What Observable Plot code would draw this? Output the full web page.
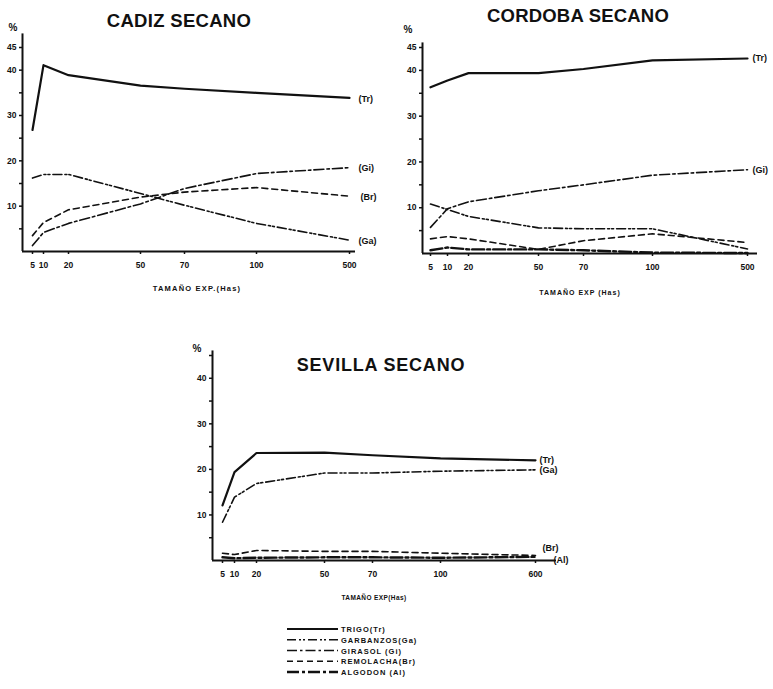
<!DOCTYPE html>
<html><head><meta charset="utf-8">
<script src="https://cdn.jsdelivr.net/npm/d3@7"></script>
<script src="https://cdn.jsdelivr.net/npm/@observablehq/plot@0.6"></script>
<style>
body{margin:0;background:#fff}
#root{position:relative;width:773px;height:689px;overflow:hidden;background:#fff}
#root svg{position:absolute;left:0;top:0}
</style></head><body><div id="root"></div>
<script>
const W = 773, H = 689;

// ---- data (values in %) ----
const sizes = [5, 10, 20, 50, 70, 100, 500];
const sevillaSizes = [5, 10, 20, 50, 70, 100, 600];

const cadizTr = [26.8, 41.1, 38.9, 36.6, 35.9, 35.0, 33.9];
const cadizGa = [16.2, 17.0, 17.0, 12.8, 10.2, 6.2, 2.5];
const cadizGi = [1.3, 4.2, 6.2, 10.5, 13.9, 17.2, 18.5];
const cadizBr = [3.5, 6.4, 9.2, 12.0, 13.1, 14.1, 12.2];

const cordobaTr = [36.3, 37.8, 39.4, 39.4, 40.3, 42.2, 42.6];
const cordobaGa = [10.8, 9.6, 8.1, 5.6, 5.4, 5.4, 1.0];
const cordobaGi = [5.7, 9.8, 11.3, 13.7, 15.0, 17.1, 18.3];
const cordobaBr = [3.2, 3.7, 3.2, 0.9, 2.8, 4.3, 2.4];
const cordobaAl = [0.7, 1.3, 0.9, 0.9, 0.7, 0.2, 0.1];

const sevillaTr = [12.1, 19.4, 23.6, 23.7, 23.1, 22.4, 22.0];
const sevillaGa = [8.4, 13.9, 16.9, 19.2, 19.2, 19.6, 19.9];
const sevillaBr = [1.6, 1.3, 2.2, 2.0, 2.0, 1.6, 1.1];
const sevillaAl = [0.7, 0.5, 0.6, 0.7, 0.7, 0.6, 0.8];

const seriesKeys = ["Tr", "Ga", "Gi", "Br", "Al"];
const seriesNames = ["TRIGO(Tr)", "GARBANZOS(Ga)", "GIRASOL (Gi)", "REMOLACHA(Br)", "ALGODON (Al)"];
const yTicks = [5, 10, 15, 20, 25, 30, 35, 40, 45];

// ---- styles ----
const lineStyle = {
  Tr: {dash: "none", w: 2.2},
  Ga: {dash: "9,3,2,2,2,3", w: 1.6},
  Gi: {dash: "10,3,2.5,3", w: 1.6},
  Br: {dash: "6,4", w: 1.6},
  Al: {dash: "12,3,3,3", w: 2.4}
};
const INK = "#111";
const FONT = "'Liberation Sans', Arial, sans-serif";

// ---- panel layouts ----
const panels = [
  {
    sizes, series: {Tr: cadizTr, Gi: cadizGi, Br: cadizBr, Ga: cadizGa},
    left: 22, right: 355, top: 47, bottom: 251,
    xpos: [32, 43, 68, 140, 184, 256, 349], yTop: 48,
    yLabels: [10, 20, 30, 40, 45],
    endLabels: {Tr: [9, 1], Gi: [9, 0], Br: [11, 1], Ga: [9, 1]}
  },
  {
    sizes, series: {Tr: cordobaTr, Gi: cordobaGi, Ga: cordobaGa, Br: cordobaBr, Al: cordobaAl},
    left: 422, right: 757, top: 47, bottom: 253,
    xpos: [430, 447, 468, 538, 583, 652, 747], yTop: 46,
    yLabels: [10, 20, 30, 40, 45],
    endLabels: {Tr: [5, 0], Gi: [5, 0]}
  },
  {
    sizes: sevillaSizes, series: {Tr: sevillaTr, Ga: sevillaGa, Br: sevillaBr, Al: sevillaAl},
    left: 212, right: 556, top: 355, bottom: 560,
    xpos: [222, 234, 256, 324, 372, 440, 535], yTop: 46,
    yLabels: [10, 20, 30, 40],
    endLabels: {Tr: [4, 0], Ga: [4, 0], Br: [7, -7], Al: [18, 3]}
  }
];

const root = document.getElementById("root");

for (const p of panels) {
  const domain = [0, ...p.sizes, 2000];
  const range = [p.left, ...p.xpos, p.right];
  const marks = [
    Plot.ruleY([0], {stroke: INK, strokeWidth: 2}),
    Plot.ruleX([0], {y1: 0, y2: p.yTop, stroke: INK, strokeWidth: 2}),
    Plot.axisY({ticks: yTicks, tickFormat: d => p.yLabels.includes(d) ? String(d) : "",
      tickSize: 3, tickPadding: 3, label: null, stroke: INK, fill: INK, strokeWidth: 1.5}),
    Plot.axisX({ticks: p.sizes, tickSize: 3, tickPadding: 7, label: null, stroke: INK, fill: INK, strokeWidth: 1.5})
  ];
  for (const key of Object.keys(p.series)) {
    const rows = p.sizes.map((s, i) => ({size: s, value: p.series[key][i], key}));
    const st = lineStyle[key];
    marks.push(Plot.line(rows, {x: "size", y: "value", stroke: INK,
      strokeWidth: st.w, strokeDasharray: st.dash, strokeLinejoin: "round"}));
    if (p.endLabels[key]) {
      const [dx, dy] = p.endLabels[key];
      marks.push(Plot.text([rows[rows.length - 1]], {x: "size", y: "value",
        text: d => `(${d.key})`, dx, dy, textAnchor: "start", fill: INK,
        fontSize: 9, fontWeight: "bold"}));
    }
  }
  const svg = Plot.plot({
    width: W, height: H,
    marginLeft: p.left, marginRight: W - p.right,
    marginTop: p.top, marginBottom: H - p.bottom,
    x: {type: "linear", domain, range},
    y: {domain: [0, 45], label: null},
    style: {background: "none", fontFamily: FONT, fontSize: "8.5px", fontWeight: "bold", color: INK},
    marks
  });
  root.appendChild(svg);
}

// ---- titles, unit labels, axis titles and legend ----
const ov = d3.select(root).append("svg").attr("width", W).attr("height", H)
  .style("font-family", FONT).style("font-weight", "bold").attr("fill", INK);

const texts = [
  {t: "CADIZ SECANO", x: 179, y: 27, s: 18.5, a: "middle", ls: 0.3},
  {t: "CORDOBA  SECANO", x: 578, y: 22, s: 18.5, a: "middle", ls: 0.2},
  {t: "SEVILLA  SECANO", x: 381, y: 371, s: 18, a: "middle", ls: 0.8},
  {t: "%", x: 13, y: 31, s: 10, a: "middle", ls: 0},
  {t: "%", x: 408, y: 33, s: 10, a: "middle", ls: 0},
  {t: "%", x: 197, y: 352, s: 10, a: "middle", ls: 0},
  {t: "TAMAÑO EXP.(Has)", x: 197, y: 291, s: 7.5, a: "middle", ls: 1.2},
  {t: "TAMAÑO EXP (Has)", x: 580, y: 295, s: 7, a: "middle", ls: 1.0},
  {t: "TAMAÑO EXP(Has)", x: 374, y: 600, s: 6.5, a: "middle", ls: 0.4}
];
ov.selectAll("text.t").data(texts).join("text").attr("class", "t")
  .attr("x", d => d.x).attr("y", d => d.y).attr("font-size", d => d.s)
  .attr("text-anchor", d => d.a).attr("letter-spacing", d => d.ls).text(d => d.t);

const legendY = i => 629 + i * 10.75;
const lg = ov.selectAll("g.lg").data(seriesKeys).join("g").attr("class", "lg")
  .attr("transform", (d, i) => `translate(0,${legendY(i)})`);
lg.append("line").attr("x1", 287).attr("x2", 338).attr("y1", 0).attr("y2", 0)
  .attr("stroke", INK).attr("stroke-width", d => lineStyle[d].w)
  .attr("stroke-dasharray", d => lineStyle[d].dash);
lg.append("text").attr("x", 341).attr("y", 3).attr("font-size", 7.5)
  .attr("letter-spacing", 1).text((d, i) => seriesNames[i]);
</script>
</body></html>
